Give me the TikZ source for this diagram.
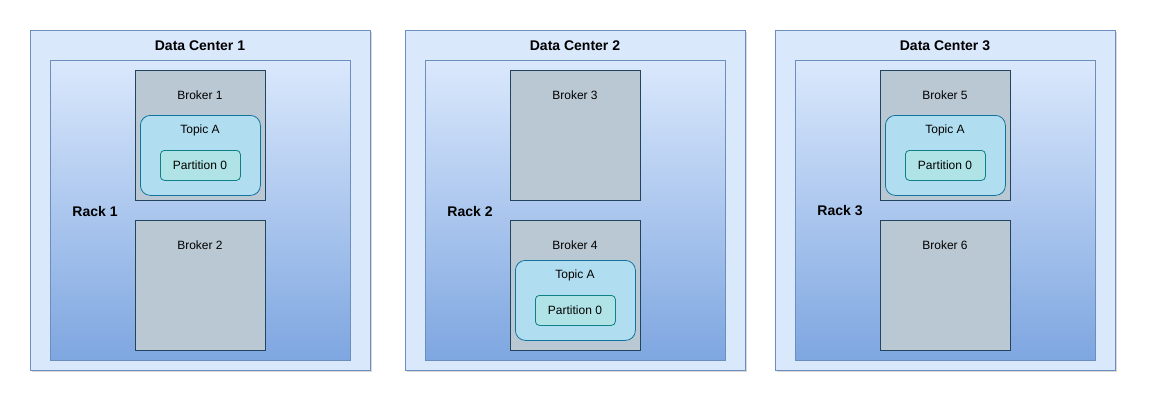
\documentclass[tikz,border=0pt]{standalone}
\usepackage{fontspec}
\setmainfont{Liberation Sans}
\usetikzlibrary{shadows}
\definecolor{dcf}{HTML}{DAE8FC}\definecolor{dcs}{HTML}{6C8EBF}
\definecolor{rkb}{HTML}{7EA6E0}
\definecolor{brf}{HTML}{BAC8D3}\definecolor{brs}{HTML}{23445D}
\definecolor{tpf}{HTML}{B1DDF0}\definecolor{tps}{HTML}{10739E}
\definecolor{ptf}{HTML}{B0E3E6}\definecolor{pts}{HTML}{0E8088}
\begin{document}
\begin{tikzpicture}[x=1pt,y=-1pt,
  box/.style={draw, rectangle, inner sep=0pt, anchor=north west, line width=0.8pt},
  dc/.style={box, fill=dcf, draw=dcs, minimum width=340pt, minimum height=340pt, drop shadow={shadow xshift=2pt, shadow yshift=-2pt, opacity=0.3}},
  rack/.style={box, draw=dcs, top color=dcf, bottom color=rkb, minimum width=300pt, minimum height=300pt},
  broker/.style={box, fill=brf, draw=brs, minimum width=130pt, minimum height=130pt},
  topic/.style={box, fill=tpf, draw=tps, rounded corners=10pt, minimum width=120pt, minimum height=80pt},
  part/.style={box, fill=ptf, draw=pts, rounded corners=4pt, minimum width=80pt, minimum height=30pt, font=\fontsize{12}{14}\selectfont},
  txt/.style={font=\fontsize{12}{14}\selectfont, inner sep=0pt},
  ttl/.style={font=\bfseries\fontsize{14}{16}\selectfont, inner sep=0pt}]
\useasboundingbox (0,0) rectangle (1152,407);
\foreach \i/\x/\ta/\tb/\bu/\bd in {1/30/1/0/1/2, 2/405/0/1/3/4, 3/775/1/0/5/6}{
  \node[dc] (dc\i) at (\x,30) {};
  \node[ttl] (dct\i) at (\x+170,46) {Data Center \i};
  \node[rack] (rk\i) at (\x+20,60) {};
  \node[ttl] (rkt\i) at (\x+65,211) {Rack \i};
  \node[broker] (b\bu) at (\x+105,70) {};
  \node[txt] (bt\bu) at (\x+170,95) {Broker \bu};
  \node[broker] (b\bd) at (\x+105,220) {};
  \node[txt] (bt\bd) at (\x+170,245) {Broker \bd};
  \ifnum\ta=1
    \node[topic] (tu\i) at (\x+110,115) {};
    \node[txt] (tut\i) at (\x+170,130) {Topic A};
    \node[part] (pu\i) at (\x+130,150) {};
    \node[txt] (put\i) at (\x+170,165) {Partition 0};
  \fi
  \ifnum\tb=1
    \node[topic] (td\i) at (\x+110,260) {};
    \node[txt] (tdt\i) at (\x+170,275) {Topic A};
    \node[part] (pd\i) at (\x+130,295) {};
    \node[txt] (pdt\i) at (\x+170,310) {Partition 0};
  \fi
}
\end{tikzpicture}
\end{document}
